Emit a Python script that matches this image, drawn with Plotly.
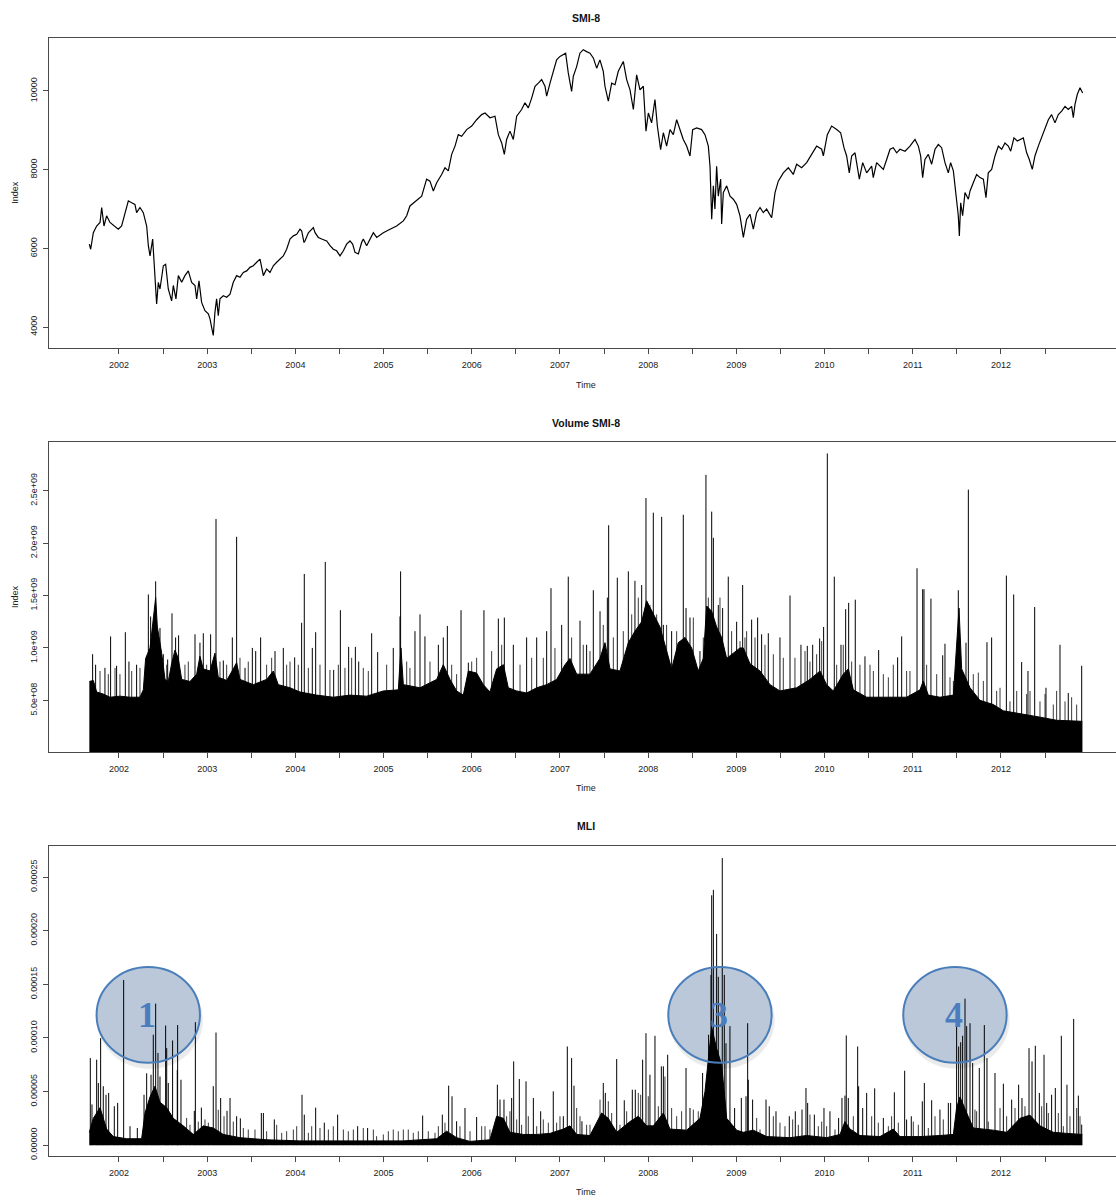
import plotly.graph_objects as go

# ---------------------------------------------------------------------------
# SMI-8 index level (time in decimal years, index points)
# ---------------------------------------------------------------------------
smi_t = [
    2001.664, 2001.679, 2001.709, 2001.747, 2001.785, 2001.804, 2001.830, 2001.860, 2001.898, 2001.955,
    2001.992, 2002.030, 2002.068, 2002.106, 2002.144, 2002.181, 2002.200, 2002.238, 2002.276, 2002.314,
    2002.333, 2002.352, 2002.382, 2002.397, 2002.412, 2002.427, 2002.446, 2002.465, 2002.503, 2002.529,
    2002.559, 2002.597, 2002.616, 2002.646, 2002.673, 2002.711, 2002.748, 2002.786, 2002.824, 2002.862,
    2002.881, 2002.907, 2002.937, 2002.975, 2003.013, 2003.032, 2003.054, 2003.069, 2003.088, 2003.107,
    2003.126, 2003.145, 2003.183, 2003.221, 2003.259, 2003.296, 2003.334, 2003.372, 2003.410, 2003.448,
    2003.485, 2003.523, 2003.561, 2003.599, 2003.637, 2003.674, 2003.712, 2003.750, 2003.788, 2003.826,
    2003.863, 2003.901, 2003.939, 2003.977, 2004.015, 2004.052, 2004.071, 2004.098, 2004.109, 2004.147,
    2004.185, 2004.204, 2004.223, 2004.260, 2004.298, 2004.355, 2004.393, 2004.430, 2004.468, 2004.506,
    2004.544, 2004.581, 2004.619, 2004.649, 2004.676, 2004.714, 2004.751, 2004.770, 2004.808, 2004.846,
    2004.884, 2004.922, 2004.997, 2005.073, 2005.148, 2005.224, 2005.262, 2005.299, 2005.375, 2005.432,
    2005.488, 2005.526, 2005.564, 2005.602, 2005.658, 2005.696, 2005.734, 2005.772, 2005.810, 2005.847,
    2005.885, 2005.942, 2005.999, 2006.055, 2006.112, 2006.150, 2006.206, 2006.263, 2006.301, 2006.339,
    2006.369, 2006.395, 2006.433, 2006.471, 2006.509, 2006.565, 2006.603, 2006.641, 2006.679, 2006.717,
    2006.754, 2006.792, 2006.830, 2006.849, 2006.887, 2006.924, 2006.962, 2007.000, 2007.038, 2007.064,
    2007.094, 2007.132, 2007.151, 2007.189, 2007.226, 2007.264, 2007.302, 2007.340, 2007.378, 2007.416,
    2007.453, 2007.491, 2007.510, 2007.548, 2007.586, 2007.624, 2007.661, 2007.718, 2007.756, 2007.794,
    2007.832, 2007.869, 2007.907, 2007.945, 2007.975, 2008.002, 2008.039, 2008.077, 2008.104, 2008.141,
    2008.172, 2008.209, 2008.247, 2008.285, 2008.323, 2008.361, 2008.398, 2008.436, 2008.474, 2008.504,
    2008.550, 2008.606, 2008.644, 2008.682, 2008.701, 2008.720, 2008.739, 2008.757, 2008.776, 2008.795,
    2008.822, 2008.833, 2008.852, 2008.890, 2008.928, 2008.965, 2009.003, 2009.041, 2009.079, 2009.116,
    2009.154, 2009.192, 2009.230, 2009.268, 2009.305, 2009.343, 2009.400, 2009.438, 2009.475, 2009.532,
    2009.589, 2009.645, 2009.683, 2009.740, 2009.797, 2009.853, 2009.910, 2009.967, 2009.986, 2010.031,
    2010.080, 2010.137, 2010.182, 2010.220, 2010.250, 2010.280, 2010.307, 2010.345, 2010.371, 2010.394,
    2010.432, 2010.477, 2010.534, 2010.552, 2010.590, 2010.628, 2010.666, 2010.704, 2010.742, 2010.779,
    2010.817, 2010.855, 2010.912, 2010.968, 2011.025, 2011.063, 2011.089, 2011.112, 2011.138, 2011.176,
    2011.214, 2011.252, 2011.290, 2011.327, 2011.365, 2011.403, 2011.429, 2011.460, 2011.490, 2011.516,
    2011.528, 2011.543, 2011.565, 2011.592, 2011.630, 2011.649, 2011.686, 2011.724, 2011.762, 2011.800,
    2011.830, 2011.856, 2011.894, 2011.932, 2011.970, 2012.008, 2012.045, 2012.083, 2012.110, 2012.147,
    2012.185, 2012.223, 2012.253, 2012.291, 2012.321, 2012.355, 2012.385, 2012.423, 2012.461, 2012.499,
    2012.537, 2012.574, 2012.612, 2012.650, 2012.688, 2012.726, 2012.763, 2012.801, 2012.820, 2012.839,
    2012.865, 2012.896, 2012.926,
]
smi_v = [
    6110, 5980, 6400, 6570, 6660, 7040, 6570, 6830, 6660, 6570,
    6490, 6570, 6910, 7210, 7160, 7120, 6910, 7040, 6910, 6570,
    6070, 5810, 6240, 5650, 5390, 4590, 5140, 4970, 5560, 5600,
    4970, 4670, 5060, 4720, 5310, 5140, 5310, 5430, 5140, 5060,
    4720, 5180, 4630, 4420, 4340, 4210, 3960, 3790, 4380, 4720,
    4290, 4720, 4800, 4760, 4840, 5140, 5310, 5270, 5390, 5430,
    5520, 5560, 5650, 5730, 5310, 5480, 5390, 5560, 5650, 5730,
    5810, 5980, 6240, 6320, 6360, 6490, 6450, 6150, 6190, 6400,
    6490, 6530, 6400, 6280, 6240, 6190, 6070, 5980, 5940, 5810,
    5940, 6110, 6190, 6110, 5900, 5860, 6150, 6240, 6070, 6240,
    6400, 6280, 6400, 6490, 6570, 6700, 6830, 7080, 7210, 7330,
    7760, 7710, 7460, 7670, 7880, 8050, 7970, 8390, 8600, 8890,
    8850, 9020, 9110, 9270, 9400, 9440, 9320, 9360, 8890, 8680,
    8390, 8770, 8980, 8770, 9360, 9530, 9700, 9570, 9820, 10120,
    10200, 10290, 10120, 9870, 10200, 10500, 10790, 10880, 10920, 10960,
    10460, 9990, 10370, 10620, 10960, 11050, 11000, 10960, 10840, 10580,
    10790, 10500, 10120, 9740, 10200, 10160, 10500, 10750, 10290, 10030,
    9530, 10410, 10030, 10120, 8980, 9440, 9190, 9780, 9110, 8510,
    8940, 8600, 9020, 8890, 9270, 9020, 8770, 8600, 8350, 9020,
    9060, 9020, 8890, 8600, 8090, 6740, 7590, 7000, 8090, 7330,
    7760, 6620, 7420, 7590, 7330, 7250, 7120, 6830, 6280, 6740,
    6870, 6490, 6910, 7040, 6910, 7000, 6780, 7420, 7710, 7920,
    8050, 7880, 8140, 8050, 8180, 8390, 8600, 8520, 8350, 8890,
    9110, 9020, 8940, 8560, 8350, 7920, 8350, 8430, 8050, 7760,
    8180, 7920, 8090, 7800, 8180, 8090, 8010, 8260, 8520, 8560,
    8430, 8520, 8470, 8600, 8770, 8600, 8350, 7800, 8260, 8390,
    8140, 8520, 8640, 8560, 8180, 7920, 8180, 7970, 7330, 6830,
    6320, 7160, 6830, 7420, 7250, 7460, 7670, 7880, 7800, 7760,
    7290, 7920, 8010, 8350, 8600, 8520, 8680, 8600, 8470, 8810,
    8730, 8770, 8810, 8430, 8260, 8010, 8350, 8600, 8810, 9020,
    9270, 9400, 9190, 9400, 9490, 9610, 9530, 9610, 9320, 9660,
    9910, 10080, 9950,
]

# ---------------------------------------------------------------------------
# Volume SMI-8 (units of 1e8 shares)
#   base : bulk daily level, mid : busier days, peak : high-volume days
# ---------------------------------------------------------------------------
vol_base_t = [
    2001.664, 2001.709, 2001.747, 2001.822, 2001.898, 2002.011, 2002.125, 2002.238, 2002.276, 2002.302,
    2002.352, 2002.397, 2002.416, 2002.435, 2002.484, 2002.522, 2002.559, 2002.597, 2002.635, 2002.673,
    2002.711, 2002.805, 2002.881, 2002.918, 2002.956, 2003.032, 2003.088, 2003.126, 2003.221, 2003.296,
    2003.334, 2003.372, 2003.523, 2003.674, 2003.750, 2003.806, 2003.939, 2004.052, 2004.241, 2004.430,
    2004.619, 2004.808, 2004.997, 2005.167, 2005.197, 2005.224, 2005.413, 2005.602, 2005.677, 2005.753,
    2005.828, 2005.904, 2005.961, 2006.055, 2006.131, 2006.206, 2006.282, 2006.358, 2006.414, 2006.509,
    2006.622, 2006.736, 2006.849, 2006.962, 2007.057, 2007.113, 2007.189, 2007.340, 2007.453, 2007.510,
    2007.567, 2007.680, 2007.775, 2007.850, 2007.926, 2007.982, 2008.058, 2008.134, 2008.190, 2008.266,
    2008.341, 2008.417, 2008.493, 2008.568, 2008.625, 2008.663, 2008.720, 2008.776, 2008.833, 2008.890,
    2008.965, 2009.041, 2009.079, 2009.154, 2009.268, 2009.381, 2009.494, 2009.683, 2009.834, 2009.948,
    2010.023, 2010.099, 2010.212, 2010.269, 2010.326, 2010.477, 2010.628, 2010.779, 2010.930, 2011.082,
    2011.119, 2011.176, 2011.308, 2011.460, 2011.497, 2011.524, 2011.554, 2011.649, 2011.762, 2011.913,
    2012.027, 2012.253, 2012.442, 2012.631, 2012.820, 2012.922,
]
vol_base_e8 = [
    6.8, 6.9, 5.8, 5.6, 5.3, 5.4, 5.3, 5.3, 6.0, 9.0,
    10.0, 13.0, 14.8, 12.0, 9.5, 7.0, 6.8, 8.5, 9.8, 9.0,
    7.0, 6.8, 7.5, 9.2, 8.0, 7.8, 9.5, 7.2, 6.9, 8.0,
    8.6, 7.0, 6.5, 7.0, 7.8, 6.5, 6.2, 5.8, 5.5, 5.3,
    5.5, 5.4, 5.9, 6.0, 10.0, 6.5, 6.2, 7.0, 8.4, 7.0,
    5.9, 5.5, 7.8, 7.6, 6.5, 5.8, 8.0, 8.4, 6.2, 5.9,
    5.7, 6.2, 6.5, 7.0, 8.4, 9.0, 7.5, 7.5, 9.0, 10.5,
    8.0, 7.8, 10.5, 11.6, 12.5, 14.5, 13.2, 12.0, 10.3, 8.0,
    10.5, 11.0, 10.0, 7.8, 9.0, 14.0, 13.5, 12.0, 11.0, 9.0,
    9.5, 10.0, 10.0, 8.5, 7.8, 6.5, 5.9, 6.2, 7.0, 7.8,
    6.5, 5.9, 7.5, 8.0, 6.0, 5.3, 5.3, 5.3, 5.3, 6.0,
    6.85, 5.5, 5.3, 5.5, 11.0, 13.8, 8.0, 6.2, 5.0, 4.6,
    4.0, 3.7, 3.4, 3.1, 3.0, 3.0,
]
vol_mid_t = [
    2001.785, 2001.879, 2001.955, 2002.011, 2002.144, 2002.238, 2002.541, 2002.748, 2002.786, 2002.994,
    2003.145, 2003.221, 2003.372, 2003.466, 2003.674, 2003.731, 2003.901, 2003.939, 2004.033, 2004.147,
    2004.279, 2004.392, 2004.487, 2004.562, 2004.638, 2004.770, 2004.827,
    2005.035, 2005.262, 2005.299, 2005.526, 2005.772, 2005.828, 2005.999, 2006.055, 2006.225, 2006.339,
    2006.547, 2006.679, 2006.811, 2006.943, 2007.132, 2007.264, 2007.340, 2007.491, 2007.605, 2007.718,
    2007.813, 2007.888, 2008.020, 2008.096, 2008.209, 2008.323, 2008.512, 2008.625, 2008.682, 2008.814,
    2008.946, 2009.041, 2009.097,
    2009.116, 2009.211, 2009.324, 2009.419, 2009.532, 2009.664, 2009.778, 2009.834, 2009.910, 2009.967,
    2010.137, 2010.212, 2010.307, 2010.401, 2010.515, 2010.553, 2010.666, 2010.723, 2010.779, 2010.930,
    2010.968, 2011.157, 2011.271, 2011.422, 2011.460, 2011.686, 2011.743, 2011.800, 2011.951, 2011.989,
    2012.102, 2012.178, 2012.291, 2012.329, 2012.442, 2012.499, 2012.593, 2012.631, 2012.726, 2012.801,
    2012.858,
]
vol_mid_e8 = [
    7.8, 7.5, 8.1, 7.5, 7.8, 8.1, 8.4, 8.4, 8.7, 8.4,
    8.7, 8.4, 9.06, 8.7, 8.4, 9.06, 8.4, 8.7, 8.4, 8.1,
    8.4, 7.9, 8.4, 8.1, 9.06, 8.1, 7.8,
    8.4, 8.7, 8.1, 8.7, 8.4, 7.5, 8.7, 9.06, 9.7, 10.3,
    8.4, 9.06, 9.06, 10.0, 11.0, 10.3, 9.7, 12.2, 11.0, 11.6,
    13.2, 14.8, 14.1, 13.2, 12.2, 11.6, 12.9, 11.0, 14.8, 14.8,
    11.6, 10.65, 11.0,
    11.6, 11.0, 10.3, 9.4, 9.06, 9.06, 9.7, 8.7, 9.4, 10.65,
    8.4, 10.3, 8.7, 8.4, 8.4, 7.8, 7.5, 7.2, 8.4, 7.8,
    7.8, 8.4, 7.5, 7.2, 6.85, 7.5, 7.65, 6.85, 5.9, 6.2,
    4.9, 5.9, 5.6, 5.9, 4.9, 5.6, 4.6, 5.9, 4.9, 5.3,
    4.6,
]
vol_peak_t = [
    2001.701, 2001.735, 2001.841, 2001.905, 2001.973, 2002.072, 2002.113, 2002.200, 2002.333, 2002.359,
    2002.382, 2002.416, 2002.465, 2002.503, 2002.552, 2002.601, 2002.642, 2002.676, 2002.862, 2002.918,
    2002.956, 2003.039, 2003.100, 2003.183, 2003.285, 2003.334, 2003.429, 2003.512, 2003.550, 2003.606,
    2003.769, 2003.863, 2003.992, 2004.071, 2004.101, 2004.192, 2004.230, 2004.339, 2004.434, 2004.510,
    2004.604, 2004.680, 2004.718, 2004.865, 2004.933, 2005.110, 2005.186, 2005.193, 2005.356, 2005.413,
    2005.469, 2005.621, 2005.677, 2005.723, 2005.878, 2005.961, 2006.138, 2006.301, 2006.369, 2006.471,
    2006.622, 2006.736, 2006.849, 2006.898, 2007.019, 2007.094, 2007.227, 2007.302, 2007.378, 2007.454,
    2007.537, 2007.552, 2007.650, 2007.775, 2007.850, 2007.926, 2007.975, 2008.058, 2008.153, 2008.172,
    2008.266, 2008.398, 2008.429, 2008.474, 2008.587, 2008.655, 2008.720, 2008.739, 2008.795, 2008.844,
    2008.908, 2009.003, 2009.071, 2009.173, 2009.241, 2009.286, 2009.362, 2009.494, 2009.608, 2009.732,
    2009.804, 2009.865, 2009.944, 2009.989, 2010.031, 2010.110, 2010.186, 2010.239, 2010.273, 2010.348,
    2010.458, 2010.613, 2010.828, 2010.874, 2011.048, 2011.112, 2011.127, 2011.206, 2011.339, 2011.365,
    2011.516, 2011.603, 2011.630, 2011.841, 2011.894, 2012.061, 2012.144, 2012.234, 2012.306, 2012.382,
    2012.510, 2012.669, 2012.763, 2012.915,
]
vol_peak_e8 = [
    9.4, 8.4, 8.1, 11.1, 8.3, 11.5, 8.7, 8.4, 15.1, 13.0,
    11.9, 16.35, 11.9, 9.4, 8.9, 13.3, 11.0, 11.2, 11.3, 10.5,
    11.4, 11.3, 22.3, 8.8, 11.0, 20.6, 8.1, 10.0, 9.7, 11.0,
    9.7, 10.0, 9.1, 12.4, 17.05, 10.0, 11.5, 18.2, 7.9, 13.6,
    10.1, 10.1, 8.7, 11.4, 9.6, 10.0, 13.0, 17.3, 11.6, 13.2,
    11.1, 10.3, 11.0, 12.1, 13.6, 8.6, 13.6, 12.8, 12.9, 10.3,
    11.0, 11.0, 11.6, 15.7, 12.2, 16.8, 12.6, 10.3, 15.5, 13.5,
    14.8, 21.7, 16.7, 17.3, 16.4, 16.0, 24.3, 22.9, 22.5, 12.2,
    11.6, 22.7, 13.8, 12.9, 9.7, 26.5, 23.0, 20.5, 14.1, 13.8,
    16.8, 12.5, 16.0, 12.7, 12.9, 11.3, 11.4, 11.0, 15.0, 10.3,
    10.2, 10.3, 10.9, 12.0, 28.55, 16.8, 10.3, 13.7, 14.3, 14.6,
    9.2, 9.8, 9.1, 11.1, 17.6, 15.6, 15.6, 14.7, 9.3, 10.4,
    15.5, 10.5, 25.1, 10.55, 11.0, 16.9, 15.1, 8.65, 7.8, 13.9,
    6.2, 10.3, 5.7, 8.3,
]

# ---------------------------------------------------------------------------
# MLI (units of 1e-5)
#   base : bulk daily level, low : small stems, peak : high readings
# ---------------------------------------------------------------------------
mli_base_t = [
    2001.664, 2001.709, 2001.785, 2001.860, 2001.936, 2002.087, 2002.257, 2002.295, 2002.352, 2002.408,
    2002.465, 2002.541, 2002.616, 2002.729, 2002.843, 2002.956, 2003.069, 2003.183, 2003.372, 2003.674,
    2004.052, 2004.430, 2004.808, 2005.224, 2005.602, 2005.715, 2005.828, 2005.979, 2006.206, 2006.282,
    2006.358, 2006.433, 2006.584, 2006.736, 2006.887, 2007.038, 2007.113, 2007.189, 2007.340, 2007.472,
    2007.548, 2007.643, 2007.794, 2007.888, 2007.982, 2008.058, 2008.172, 2008.247, 2008.436, 2008.587,
    2008.644, 2008.682, 2008.720, 2008.776, 2008.833, 2008.890, 2009.003, 2009.079, 2009.192, 2009.343,
    2009.608, 2009.797, 2010.023, 2010.175, 2010.231, 2010.288, 2010.401, 2010.628, 2010.779, 2010.855,
    2011.082, 2011.308, 2011.460, 2011.497, 2011.535, 2011.611, 2011.686, 2011.913, 2012.064, 2012.215,
    2012.328, 2012.442, 2012.593, 2012.744, 2012.922,
]
mli_base_e5 = [
    1.2, 2.5, 3.5, 1.5, 0.8, 0.6, 0.6, 3.0, 4.5, 5.5,
    4.0, 3.5, 2.5, 1.8, 1.0, 1.8, 1.6, 1.0, 0.7, 0.5,
    0.4, 0.4, 0.4, 0.4, 0.6, 1.3, 0.7, 0.35, 0.5, 2.7,
    2.5, 1.2, 1.0, 1.0, 1.1, 1.5, 1.8, 1.0, 0.9, 3.0,
    2.5, 1.2, 2.2, 2.7, 1.8, 1.8, 3.0, 1.5, 1.4, 2.5,
    5.0, 8.0, 11.0, 9.0, 7.5, 2.5, 1.4, 1.2, 1.4, 0.8,
    0.7, 0.9, 0.7, 1.0, 2.2, 1.5, 0.9, 0.8, 1.5, 0.8,
    0.8, 0.9, 1.0, 3.5, 4.5, 3.0, 1.6, 1.4, 1.2, 2.5,
    2.8, 1.8, 1.2, 1.1, 1.0,
]
mli_low_t = [
    2002.767, 2002.805, 2002.899, 2002.975, 2003.013, 2003.126, 2003.191, 2003.296, 2003.410, 2003.466,
    2003.542, 2003.674, 2003.788, 2003.845, 2003.901, 2003.977, 2004.015, 2004.147, 2004.185, 2004.279,
    2004.374, 2004.430, 2004.544, 2004.600, 2004.657, 2004.770, 2004.884,
    2004.921, 2004.997, 2005.054, 2005.110, 2005.167, 2005.224, 2005.280, 2005.337, 2005.394, 2005.507,
    2005.583, 2005.621, 2005.696, 2005.866, 2005.980, 2006.112, 2006.150, 2006.206, 2006.395, 2006.433,
    2006.509, 2006.565, 2006.641, 2006.736, 2006.811, 2006.868, 2006.962, 2007.000, 2007.189, 2007.227,
    2007.302, 2007.340, 2007.397, 2007.454, 2007.548, 2007.586, 2007.680, 2007.756, 2007.888, 2007.915,
    2008.001, 2008.115, 2008.190, 2008.266, 2008.323, 2008.379, 2008.512, 2008.568,
    2009.230, 2009.268, 2009.419, 2009.494, 2009.551, 2009.638, 2009.702, 2009.834, 2009.929, 2009.967,
    2010.023, 2010.118, 2010.326, 2010.534, 2010.609, 2010.723, 2010.760, 2010.836, 2011.006, 2011.063,
    2011.176, 2011.252, 2011.346, 2011.705, 2011.724, 2011.856, 2011.989, 2012.064, 2012.159, 2012.272,
    2012.461, 2012.537, 2012.650, 2012.707, 2012.782, 2012.858, 2012.896,
]
mli_low_e5 = [
    2.54, 1.9, 2.2, 2.4, 2.1, 3.3, 2.7, 2.2, 1.6, 1.46,
    1.46, 1.3, 1.9, 1.15, 1.3, 1.46, 1.77, 1.15, 1.77, 1.6,
    1.46, 1.77, 1.46, 1.3, 1.46, 1.6, 1.46,
    0.84, 1.0, 1.3, 1.46, 1.3, 1.46, 1.46, 1.15, 1.3, 1.3,
    1.15, 1.77, 2.1, 1.77, 1.3, 1.77, 1.77, 1.46, 2.7, 3.16,
    2.4, 1.9, 2.7, 1.77, 2.4, 2.1, 2.1, 2.7, 3.47, 2.7,
    1.9, 1.9, 1.77, 4.25, 4.1, 3.0, 1.9, 3.16, 4.87, 4.7,
    4.56, 3.63, 6.4, 3.47, 2.7, 3.16, 3.32, 3.16,
    2.54, 1.46, 2.7, 2.1, 1.77, 2.4, 1.9, 2.85, 1.77, 2.2,
    1.77, 1.46, 2.7, 2.7, 2.1, 1.77, 2.7, 2.1, 2.2, 1.9,
    1.6, 2.7, 2.4, 3.32, 3.16, 2.2, 3.47, 2.7, 3.47, 3.63,
    3.63, 3.0, 3.0, 1.77, 2.7, 3.47, 2.7,
]
mli_peak_t = [
    2001.675, 2001.694, 2001.747, 2001.766, 2001.792, 2001.822, 2001.853, 2001.883, 2001.947, 2001.985,
    2002.053, 2002.125, 2002.208, 2002.284, 2002.314, 2002.363, 2002.389, 2002.416, 2002.442, 2002.465,
    2002.529, 2002.541, 2002.559, 2002.608, 2002.661, 2002.665, 2002.703, 2002.854, 2002.866, 2002.934,
    2003.069, 2003.100, 2003.153, 2003.225, 2003.259, 2003.334, 2003.376, 2003.614, 2003.637, 2003.761,
    2004.075, 2004.101, 2004.230, 2004.328, 2004.479, 2004.706, 2004.819, 2005.443, 2005.666, 2005.738,
    2005.776, 2005.828, 2005.923, 2006.055, 2006.290, 2006.320, 2006.365, 2006.452, 2006.475, 2006.539,
    2006.615, 2006.698, 2006.781, 2006.924, 2007.038, 2007.083, 2007.132, 2007.159, 2007.249, 2007.491,
    2007.514, 2007.643, 2007.729, 2007.820, 2007.854, 2007.937, 2007.975, 2008.020, 2008.077, 2008.149,
    2008.172, 2008.221, 2008.429, 2008.474, 2008.617, 2008.685, 2008.712, 2008.720, 2008.739, 2008.776,
    2008.795, 2008.840, 2008.863, 2008.882, 2008.927, 2008.980, 2009.056, 2009.109, 2009.128, 2009.135,
    2009.184, 2009.336, 2009.373, 2009.449, 2009.600, 2009.668, 2009.744, 2009.789, 2009.808, 2009.884,
    2009.993, 2010.061, 2010.159, 2010.197, 2010.231, 2010.246, 2010.269, 2010.375, 2010.386, 2010.432,
    2010.477, 2010.568, 2010.666, 2010.791, 2010.908, 2010.930, 2010.983, 2011.108, 2011.131, 2011.214,
    2011.308, 2011.403, 2011.429, 2011.497, 2011.520, 2011.543, 2011.565, 2011.592, 2011.611, 2011.649,
    2011.679, 2011.754, 2011.811, 2011.841, 2011.932, 2012.027, 2012.121, 2012.200, 2012.238, 2012.318,
    2012.352, 2012.389, 2012.435, 2012.488, 2012.518, 2012.574, 2012.616, 2012.684, 2012.748, 2012.824,
    2012.877, 2012.915,
]
mli_peak_e5 = [
    8.12, 3.8, 7.97, 5.8, 9.98, 5.5, 4.7, 4.87, 3.63, 3.94,
    15.4, 1.77, 1.6, 4.7, 6.7, 6.57, 10.3, 13.2, 8.6, 6.4,
    11.16, 9.05, 5.8, 9.76, 7.0, 11.2, 6.1, 3.2, 11.47, 3.5,
    5.5, 10.5, 4.4, 3.2, 4.4, 2.7, 2.5, 3.0, 3.0, 2.4,
    4.7, 2.85, 3.5, 2.1, 2.85, 1.77, 1.6, 2.76, 2.85, 5.55,
    4.56, 2.23, 3.47, 2.63, 5.64, 4.25, 4.25, 4.4, 7.81, 6.17,
    5.95, 4.4, 3.16, 5.02, 2.7, 9.2, 8.12, 5.55, 2.23, 5.8,
    4.87, 8.03, 4.19, 5.17, 5.17, 7.97, 10.44, 6.57, 10.2, 7.35,
    7.35, 8.43, 7.2, 3.47, 6.73, 10.3, 15.87, 23.3, 23.8, 19.7,
    15.7, 26.77, 15.87, 9.5, 11.1, 3.47, 4.4, 4.56, 11.37, 6.1,
    4.25, 4.25, 3.63, 3.16, 2.7, 3.16, 3.32, 5.33, 3.94, 2.85,
    3.47, 3.16, 2.54, 4.4, 4.62, 10.23, 4.4, 9.2, 5.49, 3.47,
    4.87, 5.3, 2.54, 4.93, 6.94, 2.39, 2.7, 4.09, 5.8, 4.19,
    3.32, 3.94, 3.94, 11.1, 9.2, 9.6, 10.2, 13.66, 11.1, 11.37,
    7.66, 7.2, 11.2, 8.12, 6.73, 5.73, 4.25, 5.64, 4.4, 9.05,
    7.81, 9.27, 4.87, 8.43, 3.94, 4.7, 5.33, 10.2, 5.64, 11.77,
    4.62, 1.92,
]

# ---------------------------------------------------------------------------
# Axis ticks
# ---------------------------------------------------------------------------
year_ticks = [2002, 2002.5, 2003, 2003.5, 2004, 2004.5, 2005, 2005.5, 2006, 2006.5, 2007,
              2007.5, 2008, 2008.5, 2009, 2009.5, 2010, 2010.5, 2011, 2011.5, 2012, 2012.5]
year_labels = ["2002", "", "2003", "", "2004", "", "2005", "", "2006", "", "2007",
               "", "2008", "", "2009", "", "2010", "", "2011", "", "2012", ""]
smi_ticks = [4000, 6000, 8000, 10000]
smi_labels = ["4000", "6000", "8000", "10000"]
vol_ticks = [5e8, 1e9, 1.5e9, 2e9, 2.5e9]
vol_labels = ["5.0e+08", "1.0e+09", "1.5e+09", "2.0e+09", "2.5e+09"]
mli_ticks = [0, 5e-5, 1e-4, 1.5e-4, 2e-4, 2.5e-4]
mli_labels = ["0.00000", "0.00005", "0.00010", "0.00015", "0.00020", "0.00025"]

# Highlighted liquidity episodes on the MLI panel
episode_names = ["1", "3", "4"]
episode_t = [2002.332, 2008.814, 2011.478]
episode_level = 1.215e-4

for a, b in [(smi_t, smi_v), (vol_base_t, vol_base_e8), (vol_mid_t, vol_mid_e8),
             (vol_peak_t, vol_peak_e8), (mli_base_t, mli_base_e5), (mli_low_t, mli_low_e5),
             (mli_peak_t, mli_peak_e5)]:
    assert len(a) == len(b), (len(a), len(b))


def scaled(vals, unit):
    return [v * unit for v in vals]


def stems(ts, vs):
    """Vertical 'type=h' stems from zero up to each value."""
    xs, ys = [], []
    for t, v in zip(ts, vs):
        xs += [t, t, None]
        ys += [0, v, None]
    return xs, ys


FONT = "Liberation Sans, Arial, sans-serif"
INK = "#222222"
AXIS = "#4a4a4a"
W, H = 1116, 1200

fig = go.Figure()

# Panel 1: index level
fig.add_trace(go.Scatter(x=smi_t, y=smi_v, mode="lines",
                         line=dict(color="black", width=1.2),
                         xaxis="x", yaxis="y", hoverinfo="skip"))


def add_stem_panel(xa, ya, base_t, base, small, large):
    # light stems first, the solid bulk over them, then the tall black stems
    sx, sy = stems(*small)
    fig.add_trace(go.Scatter(x=sx, y=sy, mode="lines", line=dict(color="#3a3a3a", width=1),
                             xaxis=xa, yaxis=ya, hoverinfo="skip"))
    fig.add_trace(go.Scatter(x=base_t, y=base, mode="lines", fill="tozeroy",
                             fillcolor="black", line=dict(color="black", width=1),
                             xaxis=xa, yaxis=ya, hoverinfo="skip"))
    sx, sy = stems(*large)
    fig.add_trace(go.Scatter(x=sx, y=sy, mode="lines", line=dict(color="black", width=1),
                             xaxis=xa, yaxis=ya, hoverinfo="skip"))


# Panel 2: volume
add_stem_panel("x2", "y2", vol_base_t, scaled(vol_base_e8, 1e8),
               (vol_mid_t, scaled(vol_mid_e8, 1e8)),
               (vol_peak_t, scaled(vol_peak_e8, 1e8)))

# Panel 3: MLI
add_stem_panel("x3", "y3", mli_base_t, scaled(mli_base_e5, 1e-5),
               (mli_low_t, scaled(mli_low_e5, 1e-5)),
               (mli_peak_t, scaled(mli_peak_e5, 1e-5)))

x_dom = [49.3 / W, 1.0]
x_range = [2001.210, 2013.304]


def py(p):
    return 1 - p / H


def xaxis_style(anchor):
    return dict(domain=x_dom, range=x_range, anchor=anchor,
                tickmode="array", tickvals=year_ticks, ticktext=year_labels,
                ticks="outside", ticklen=5, tickwidth=1, tickcolor=AXIS,
                showline=True, linecolor=AXIS, linewidth=1, mirror=True,
                showgrid=False, zeroline=False,
                tickfont=dict(family=FONT, size=9, color=INK), ticklabelstandoff=3)


def yaxis_style(anchor, dom, rng, vals, text):
    return dict(domain=dom, range=rng, anchor=anchor,
                tickmode="array", tickvals=vals, ticktext=text,
                ticks="outside", ticklen=5, tickwidth=1, tickcolor=AXIS,
                showline=True, linecolor=AXIS, linewidth=1, mirror=False,
                showgrid=False, zeroline=False, tickangle=-90,
                tickfont=dict(family=FONT, size=9, color=INK), ticklabelstandoff=3)


fig.update_layout(
    width=W, height=H, margin=dict(l=0, r=0, t=0, b=0),
    paper_bgcolor="white", plot_bgcolor="white", showlegend=False,
    font=dict(family=FONT, size=9, color=INK),
    xaxis=xaxis_style("y"),
    xaxis2=xaxis_style("y2"),
    xaxis3=xaxis_style("y3"),
    yaxis=yaxis_style("x", [py(349.3), py(37.7)], [3468, 11357], smi_ticks, smi_labels),
    yaxis2=yaxis_style("x2", [py(754.7), py(443.3)], [5.7e6, 2.9658e9], vol_ticks, vol_labels),
    yaxis3=yaxis_style("x3", [py(1160), py(849)], [-1.022e-5, 2.788e-4], mli_ticks, mli_labels),
)

# Titles and axis labels
cx = 586 / W
ann = []
for text, ypx in [("SMI-8", 18), ("Volume SMI-8", 424), ("MLI", 829)]:
    ann.append(dict(text="<b>%s</b>" % text, x=cx, y=py(ypx), xref="paper", yref="paper",
                    showarrow=False, xanchor="center", yanchor="middle",
                    font=dict(family=FONT, size=10.5, color="#111")))
for ypx in [386, 790.7, 1196.2]:
    ann.append(dict(text="Time", x=cx, y=py(ypx), xref="paper", yref="paper",
                    showarrow=False, xanchor="center", yanchor="middle",
                    font=dict(family=FONT, size=9, color=INK)))
for ypx in [193.5, 599]:
    ann.append(dict(text="Index", x=15 / W, y=py(ypx), xref="paper", yref="paper",
                    showarrow=False, xanchor="center", yanchor="middle", textangle=-90,
                    font=dict(family=FONT, size=9, color=INK)))

# Episode markers on the MLI panel
half_w, half_h = 0.586, 4.46e-5
for name, t in zip(episode_names, episode_t):
    # soft drop shadow
    for k, op in [(1.0, 0.05), (0.6, 0.06)]:
        fig.add_shape(type="circle", xref="x3", yref="y3", layer="below",
                      x0=t - half_w * (1 + 0.03 * k) + 0.02, x1=t + half_w * (1 + 0.03 * k) + 0.02,
                      y0=episode_level - half_h * (1 + 0.05 * k) - 0.4e-5,
                      y1=episode_level + half_h * (1 + 0.02 * k) - 0.4e-5,
                      fillcolor="rgba(60,60,60,%s)" % op, line=dict(width=0))
    fig.add_shape(type="circle", xref="x3", yref="y3", layer="below",
                  x0=t - half_w, x1=t + half_w,
                  y0=episode_level - half_h, y1=episode_level + half_h,
                  fillcolor="rgb(186,200,217)", line=dict(width=0))
    fig.add_shape(type="circle", xref="x3", yref="y3", layer="above",
                  x0=t - half_w, x1=t + half_w,
                  y0=episode_level - half_h, y1=episode_level + half_h,
                  fillcolor="rgba(0,0,0,0)", line=dict(color="rgb(74,126,187)", width=2))
    ann.append(dict(text="<b>%s</b>" % name, x=t - 0.01, y=episode_level, xref="x3", yref="y3",
                    showarrow=False, xanchor="center", yanchor="middle",
                    font=dict(family="Liberation Serif, DejaVu Serif, serif", size=36,
                              color="rgb(74,124,190)")))

fig.update_layout(annotations=ann)

fig.write_html("out.html")
